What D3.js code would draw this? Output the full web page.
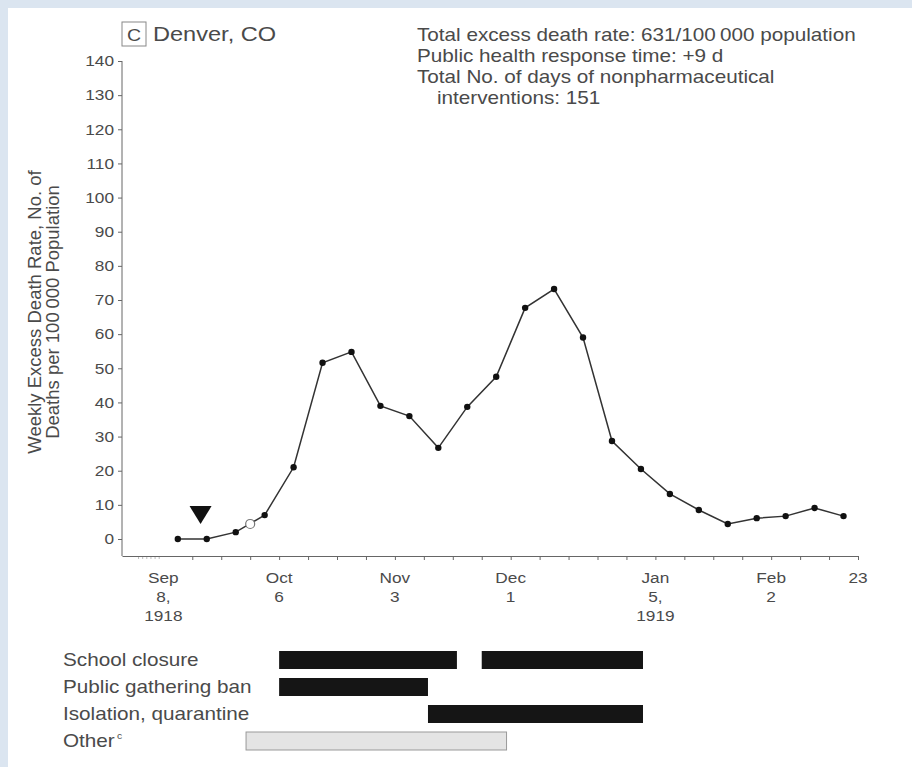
<!DOCTYPE html>
<html>
<head>
<meta charset="utf-8">
<script src="https://cdn.jsdelivr.net/npm/d3@7"></script>
<style>
  body { margin: 0; background: #dbe5f0; }
  #chart { position: absolute; left: 8px; top: 8px; }
  text { font-family: "Liberation Sans", Arial, sans-serif; fill: #4a4a4a; }
</style>
</head>
<body>
<div id="chart"></div>
<script>
// weekly excess death rate, week starting on each date (plotted mid-week)
const firstWeek = new Date(1918, 8, 8)
const rates = [0, 0, 2, 7, 21, 51.6, 54.8, 39, 36, 26.7, 38.7, 47.5,
               67.7, 73.2, 59, 28.7, 20.5, 13.2, 8.5, 4.4, 6.1, 6.7, 9.1, 6.7]

const yTicks = [0, 10, 20, 30, 40, 50, 60, 70, 80, 90, 100, 110, 120, 130, 140]
const xLabels = [
    { date: new Date(1918, 8, 8), lines: ["Sep", "8,", "1918"] },
    { date: new Date(1918, 9, 6), lines: ["Oct", "6"] },
    { date: new Date(1918, 10, 3), lines: ["Nov", "3"] },
    { date: new Date(1918, 11, 1), lines: ["Dec", "1"] },
    { date: new Date(1919, 0, 5), lines: ["Jan", "5,", "1919"] },
    { date: new Date(1919, 1, 2), lines: ["Feb", "2"] },
    { date: new Date(1919, 1, 23), lines: ["23"] }
]

// markers
const triangleDate = new Date(1918, 8, 17)
const triangleValue = 7
const openCircleDate = new Date(1918, 8, 29)
const openCircleValue = 4.4

// nonpharmaceutical interventions
const npiNames = ["School closure", "Public gathering ban", "Isolation, quarantine", "Other"]
const npiPeriods = [
    { name: "School closure", start: new Date(1918, 9, 6), end: new Date(1918, 10, 18), other: false },
    { name: "School closure", start: new Date(1918, 10, 24), end: new Date(1919, 0, 2), other: false },
    { name: "Public gathering ban", start: new Date(1918, 9, 6), end: new Date(1918, 10, 11), other: false },
    { name: "Isolation, quarantine", start: new Date(1918, 10, 11), end: new Date(1919, 0, 2), other: false },
    { name: "Other", start: new Date(1918, 8, 28), end: new Date(1918, 10, 30), other: true }
]

const infoLines = [
    "Total excess death rate: 631/100\u2009000 population",
    "Public health response time: +9 d",
    "Total No. of days of nonpharmaceutical",
    "interventions: 151"
]

const svg = d3.select("#chart").append("svg")
    .attr("width", 904)
    .attr("height", 759)
    .style("background", "white")

// offsets of the svg inside the page
const ox = 8, oy = 8
// the source figure is a little stretched sideways
const sx = 1.15

const x = d3.scaleTime()
    .domain([new Date(1918, 7, 29), new Date(1919, 1, 23)])
    .range([122 - ox, 858 - ox])

const y = d3.scaleLinear()
    .domain([0, 140])
    .range([539 - oy, 61 - oy])

const axisY = 556 - oy
const gray = "#666"

// y axis
const yAxis = svg.append("g")
    .attr("transform", `translate(${x.range()[0]},0)`)
    .call(d3.axisLeft(y).tickValues(yTicks).tickSize(4).tickSizeOuter(0))
yAxis.select(".domain").remove()
yAxis.append("line")
    .attr("x1", 0).attr("x2", 0)
    .attr("y1", y(140)).attr("y2", axisY)
    .attr("stroke", gray)
yAxis.selectAll(".tick line").attr("stroke", gray)
yAxis.selectAll(".tick text")
    .attr("x", -8 / sx)
    .attr("transform", `scale(${sx},1)`)
    .style("font-size", "15px")
    .style("font-family", "'Liberation Sans', Arial, sans-serif")
    .attr("fill", "#555")

// x axis with weekly ticks
const weekTicks = d3.timeWeek.range(new Date(1918, 8, 15), new Date(1919, 1, 24))
const xAxis = svg.append("g")
    .attr("transform", `translate(0,${axisY})`)
    .call(d3.axisBottom(x).tickValues(weekTicks).tickSize(4).tickSizeOuter(0).tickFormat(""))
xAxis.select(".domain").attr("stroke", gray)
xAxis.selectAll(".tick line").attr("stroke", gray)

// faint daily marks before the first week
svg.selectAll(".day-tick")
    .data(d3.timeDay.range(new Date(1918, 8, 2), new Date(1918, 8, 8)))
    .join("line")
    .attr("class", "day-tick")
    .attr("x1", d => x(d)).attr("x2", d => x(d))
    .attr("y1", axisY + 1).attr("y2", axisY + 3)
    .attr("stroke", "#bbb")

// x labels
const xl = svg.selectAll(".x-label")
    .data(xLabels)
    .join("text")
    .attr("class", "x-label")
    .attr("text-anchor", "middle")
    .attr("transform", d => `translate(${x(d.date)},${583 - oy}) scale(${sx},1)`)
    .style("font-size", "15px")
    .attr("fill", "#555")
xl.selectAll("tspan")
    .data(d => d.lines)
    .join("tspan")
    .attr("x", 0)
    .attr("dy", (d, i) => i === 0 ? 0 : 19)
    .text(d => d)

// y axis title
const yTitle = svg.append("text")
    .attr("transform", `translate(${41 - ox},${312 - oy}) rotate(-90)`)
    .attr("text-anchor", "middle")
    .style("font-size", "18.5px")
yTitle.append("tspan").attr("x", 0).attr("dy", 0).text("Weekly Excess Death Rate, No. of")
yTitle.append("tspan").attr("x", 0).attr("dy", 18).text("Deaths per 100\u2009000 Population")

// line and points
const pts = rates.map((v, i) => ({ date: d3.timeHour.offset(firstWeek, 7 * 24 * i + 84), value: v }))

const line = d3.line()
    .x(d => x(d.date))
    .y(d => y(d.value))

svg.append("path")
    .datum(pts)
    .attr("d", line)
    .attr("fill", "none")
    .attr("stroke", "#333")
    .attr("stroke-width", 1.5)

svg.selectAll(".pt")
    .data(pts)
    .join("circle")
    .attr("class", "pt")
    .attr("cx", d => x(d.date))
    .attr("cy", d => y(d.value))
    .attr("r", 3.2)
    .attr("fill", "#111")

svg.append("circle")
    .attr("cx", x(openCircleDate))
    .attr("cy", y(openCircleValue))
    .attr("r", 4.5)
    .attr("fill", "white")
    .attr("stroke", "#777")
    .attr("stroke-width", 1.2)

const tx = x(triangleDate), ty = y(triangleValue)
svg.append("path")
    .attr("d", `M${tx - 11},${ty - 9}L${tx + 11},${ty - 9}L${tx},${ty + 9}Z`)
    .attr("fill", "#111")

// title
svg.append("rect")
    .attr("x", 122 - ox).attr("y", 22 - oy)
    .attr("width", 24).attr("height", 24)
    .attr("fill", "none")
    .attr("stroke", "#888")
svg.append("text")
    .attr("transform", `translate(${134 - ox},${41 - oy}) scale(${sx},1)`)
    .attr("text-anchor", "middle")
    .style("font-size", "17px")
    .text("C")
svg.append("text")
    .attr("transform", `translate(${153 - ox},${41 - oy}) scale(${sx},1)`)
    .style("font-size", "20.5px")
    .text("Denver, CO")

svg.selectAll(".info")
    .data(infoLines)
    .join("text")
    .attr("class", "info")
    .attr("transform", (d, i) => `translate(${(i === 3 ? 437 : 417) - ox},${41 - oy + i * 21}) scale(${sx},1)`)
    .style("font-size", "18px")
    .text(d => d)

// intervention bars
const rowY = d3.scaleBand()
    .domain(npiNames)
    .range([651 - oy, 750 - oy])
    .paddingInner(1 / 3)
    .paddingOuter(0)

svg.selectAll(".npi-label")
    .data(npiNames)
    .join("text")
    .attr("class", "npi-label")
    .attr("transform", d => `translate(${63 - ox},${rowY(d) + rowY.bandwidth() / 2 + 6}) scale(${sx},1)`)
    .style("font-size", "18px")
    .text(d => d)

// superscript c on "Other"
svg.append("text")
    .attr("transform", `translate(${63 - ox + 54},${rowY("Other") + rowY.bandwidth() / 2 - 2}) scale(${sx},1)`)
    .style("font-size", "9px")
    .text("c")

svg.selectAll(".npi-bar")
    .data(npiPeriods)
    .join("rect")
    .attr("class", "npi-bar")
    .attr("x", d => x(d.start))
    .attr("width", d => x(d.end) - x(d.start))
    .attr("y", d => rowY(d.name))
    .attr("height", rowY.bandwidth())
    .attr("fill", d => d.other ? "#e4e4e4" : "#151515")
    .attr("stroke", d => d.other ? "#999" : "none")
</script>
</body>
</html>
